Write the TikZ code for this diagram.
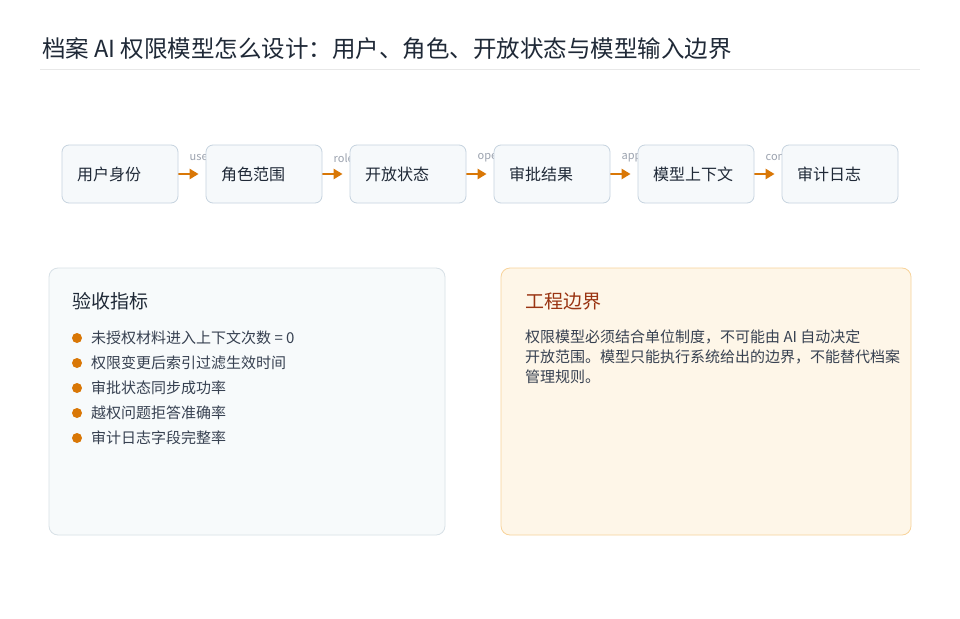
\documentclass[tikz,border=0pt]{standalone}
\usepackage{fontspec}
\setmainfont{Noto Sans CJK SC}
\usepackage{tikz}
\usetikzlibrary{arrows.meta,backgrounds}

\definecolor{boxfill}{HTML}{F6F9FB}
\definecolor{boxline}{HTML}{C6D3DF}
\definecolor{flowor}{HTML}{D97706}
\definecolor{inkdark}{HTML}{1F2937}
\definecolor{inkbody}{HTML}{374151}
\definecolor{inkgrey}{HTML}{9CA3AF}
\definecolor{metfill}{HTML}{F7FAFB}
\definecolor{metline}{HTML}{D8E1E7}
\definecolor{bndfill}{HTML}{FEF6E8}
\definecolor{bndline}{HTML}{F8D39A}
\definecolor{bndtitle}{HTML}{9A3412}

\begin{document}
\begin{tikzpicture}[x=1pt, y=-1pt,
	stage/.style={draw=boxline, fill=boxfill, rounded corners=7pt, line width=0.8pt,
		text width=86pt, inner xsep=15pt, inner ysep=0pt, minimum height=58pt,
		align=left, text=inkdark, font=\fontsize{16}{18}\selectfont},
	flow/.style={draw=flowor, line width=2.6pt, shorten >=7pt,
		-{Triangle[length=9pt,width=10pt]}},
	flowlabel/.style={at start, anchor=west, xshift=10pt, yshift=16pt,
		text=inkgrey, inner sep=0pt, font=\fontsize{11}{12}\selectfont},
	panel/.style={rounded corners=9pt, line width=0.8pt, minimum height=267pt},
	dot/.style={circle, fill=flowor, inner sep=0pt, minimum size=10pt},
	item/.style={anchor=west, inner sep=0pt, text=inkbody, font=\fontsize{15}{18}\selectfont}]

	\useasboundingbox (0,0) rectangle (960,618);

	% title
	\node[anchor=base west, inner sep=0pt, text=inkdark, font=\fontsize{23.5}{27}\selectfont]
		(title) at (42,58) {档案 AI 权限模型怎么设计：用户、角色、开放状态与模型输入边界};
	\draw[gray!18, line width=1pt] (40,69) -- (920,69);

	% flow
	\node[stage] (user)     at (120,174) {用户身份};
	\node[stage] (role)     at (264,174) {角色范围};
	\node[stage] (open)     at (408,174) {开放状态};
	\node[stage] (approval) at (552,174) {审批结果};
	\node[stage] (context)  at (696,174) {模型上下文};
	\node[stage] (audit)    at (840,174) {审计日志};

	\begin{scope}[on background layer]
	\fill[white] (0,0) rectangle (960,618);
	\draw[flow] (user)     -- (role)     node[flowlabel] {use};
	\draw[flow] (role)     -- (open)     node[flowlabel] {role};
	\draw[flow] (open)     -- (approval) node[flowlabel] {ope};
	\draw[flow] (approval) -- (context)  node[flowlabel] {app};
	\draw[flow] (context)  -- (audit)    node[flowlabel] {con};
	\end{scope}

	% metrics panel
	\node[panel, draw=metline, fill=metfill, minimum width=396pt] (metrics) at (247,401.5) {};
	\node[anchor=west, inner sep=0pt, text=inkdark, font=\fontsize{19}{22}\selectfont]
		(mtitle) at (72,301) {验收指标};
	\node[dot] (d1) at (77,338) {};
	\node[dot] (d2) at (77,363) {};
	\node[dot] (d3) at (77,388) {};
	\node[dot] (d4) at (77,413) {};
	\node[dot] (d5) at (77,438) {};
	\node[item] (m1) at (91,338) {未授权材料进入上下文次数 = 0};
	\node[item] (m2) at (91,363) {权限变更后索引过滤生效时间};
	\node[item] (m3) at (91,388) {审批状态同步成功率};
	\node[item] (m4) at (91,413) {越权问题拒答准确率};
	\node[item] (m5) at (91,438) {审计日志字段完整率};

	% boundary panel
	\node[panel, draw=bndline, fill=bndfill, minimum width=410pt] (boundary) at (706,401.5) {};
	\node[anchor=west, inner sep=0pt, text=bndtitle, font=\fontsize{19}{22}\selectfont]
		(btitle) at (525,301) {工程边界};
	\node[anchor=north west, inner sep=0pt, align=left, text=inkbody,
		font=\fontsize{15}{20}\selectfont] (btext) at (525,330)
		{权限模型必须结合单位制度，不可能由 AI 自动决定\\
		开放范围。模型只能执行系统给出的边界，不能替代档案\\
		管理规则。};
\end{tikzpicture}
\end{document}
